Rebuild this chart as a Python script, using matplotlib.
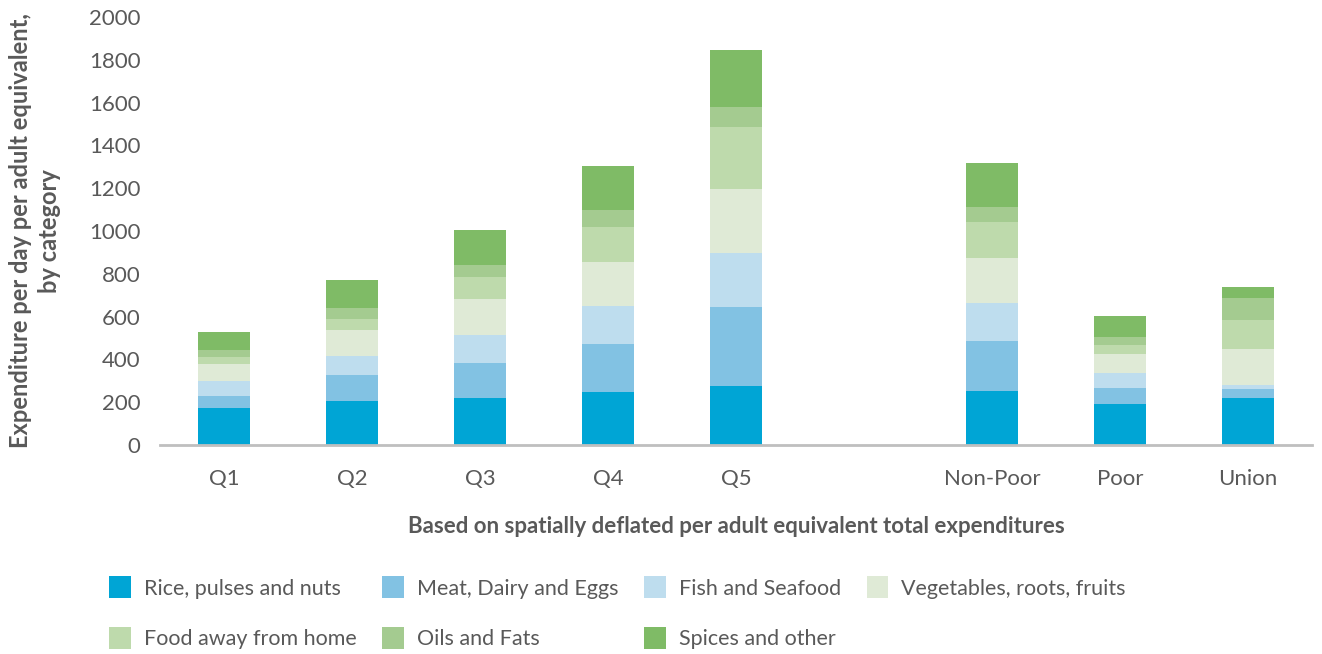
import matplotlib
matplotlib.use("Agg")
import matplotlib.pyplot as plt
import numpy as np

plt.rcParams['font.family'] = ['Lato', 'DejaVu Sans']

categories = ["Q1", "Q2", "Q3", "Q4", "Q5", "", "Non-Poor", "Poor", "Union"]

rice = [173, 205, 219, 247, 275, 0, 252, 191, 219]
meat = [56, 121, 163, 224, 368, 0, 233, 75, 42]
fish = [70, 89, 131, 177, 252, 0, 177, 70, 19]
veg = [80, 121, 168, 205, 303, 0, 214, 88, 168]
food_away = [34, 51, 102, 168, 289, 0, 164, 42, 135]
oils = [31, 52, 56, 75, 93, 0, 70, 37, 102]
spices = [84, 130, 168, 209, 266, 0, 209, 98, 52]

series_names = ["Rice, pulses and nuts", "Meat, Dairy and Eggs", "Fish and Seafood",
                "Vegetables, roots, fruits", "Food away from home", "Oils and Fats",
                "Spices and other"]
series = [rice, meat, fish, veg, food_away, oils, spices]
colors = ["#00A5D5", "#82C2E3", "#BEDDEE", "#DFEAD6", "#BEDAAC", "#A4CB90", "#7FBB66"]

fig = plt.figure(figsize=(13.22, 6.54), dpi=100)
ax = fig.add_axes([160 / 1322, 1 - 445 / 654, 1152 / 1322, 428 / 654])

x = np.arange(len(categories))
bottom = np.zeros(len(categories))
handles = []
for name, vals, col in zip(series_names, series, colors):
    vals = np.array(vals, dtype=float)
    h = ax.bar(x, vals, width=0.41, bottom=bottom, color=col, label=name)
    handles.append(h)
    bottom += vals

ax.set_xlim(-0.5, len(categories) - 0.5)
ax.set_ylim(0, 2000)
ax.set_yticks(np.arange(0, 2001, 200))
ax.set_xticks(x)
ax.set_xticklabels(categories)

for s in ["top", "right", "left"]:
    ax.spines[s].set_visible(False)
ax.spines["bottom"].set_color("#BFBFBF")
ax.spines["bottom"].set_linewidth(2)
ax.tick_params(axis="both", length=0, labelsize=16, colors="#595959")
ax.tick_params(axis="x", pad=17)
ax.tick_params(axis="y", pad=14)

ax.set_xlabel("Based on spatially deflated per adult equivalent total expenditures",
              fontsize=16, color="#595959", fontweight="bold", labelpad=20)
ax.set_ylabel("Expenditure per day per adult equivalent,\nby category",
              fontsize=17, color="#595959", fontweight="bold", labelpad=20,
              linespacing=1.3)

# legend: row-wise order for 4 columns
order = [0, 4, 1, 5, 2, 6, 3]
leg = fig.legend([handles[i] for i in order], [series_names[i] for i in order],
                 ncol=4, loc="lower left", bbox_to_anchor=(90 / 1322, -0.022),
                 frameon=False, fontsize=15.5, labelcolor="#595959",
                 handlelength=1.0, handleheight=1.2, handletextpad=0.6,
                 columnspacing=1.2, labelspacing=1.3)

fig.savefig("out.png", dpi=100)
